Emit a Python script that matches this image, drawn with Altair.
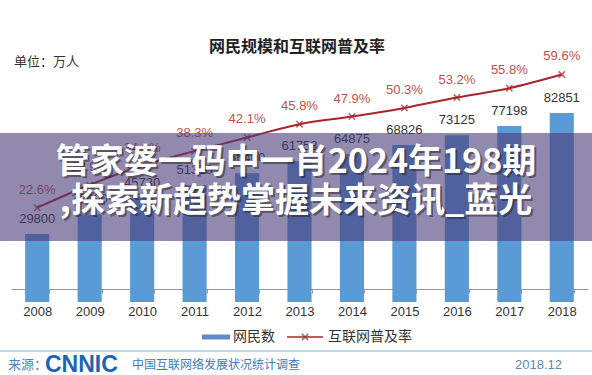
import altair as alt
import pandas as pd

years = ["2008", "2009", "2010", "2011", "2012", "2013", "2014", "2015", "2016", "2017", "2018"]
netizens = [29800, 38400, 45730, 51310, 56400, 61758, 64875, 68826, 73125, 77198, 82851]
rates = [22.6, 28.9, 34.3, 38.3, 42.1, 45.8, 47.9, 50.3, 53.2, 55.8, 59.6]

df = pd.DataFrame({"year": years, "users": netizens, "rate": rates})
df["rate_label"] = [f"{r:.1f}%" for r in rates]

CJK = "Noto Sans CJK SC"
NUM = "Liberation Sans"
W, H = 577, 212
BLUE = "#5b9bd5"
RED = "#a8262b"
XSHAPE = "M-1,-1L1,1M-1,1L1,-1"
UDOM = [5700, 98640]
GRID = [28920, 52160, 75400, 98640]

base = alt.Chart(df)
xenc = alt.X("year:N", title=None, sort=years,
             scale=alt.Scale(paddingInner=0.54, paddingOuter=0.27),
             axis=alt.Axis(labelAngle=0, labelFont=NUM, labelFontSize=13, labelColor="#333",
                           labelPadding=12, tickBand="extent", tickSize=4, tickColor="#999",
                           domainColor="#999", grid=False))
yb = alt.Y("users:Q", title=None, scale=alt.Scale(domain=UDOM, zero=False),
           axis=alt.Axis(values=GRID, labels=False, ticks=False,
                         domain=False, grid=True, gridColor="#cfcfcf", gridDash=[2, 2]))
bars = base.mark_bar(color=BLUE).encode(x=xenc, y=yb)
bar_lbl = base.mark_text(dy=-15, font=NUM, fontSize=13, color="#333", baseline="middle").encode(
    x=alt.X("year:N", sort=years), y=alt.Y("users:Q", axis=None, scale=alt.Scale(domain=UDOM, zero=False)),
    text="users:Q")

yr = alt.Y("rate:Q", axis=None, scale=alt.Scale(domain=[0, 58.9]))
line = base.mark_line(color=RED, strokeWidth=2, interpolate="monotone", clip=False).encode(
    x=alt.X("year:N", sort=years), y=yr)
pts = base.mark_point(shape=XSHAPE, filled=False, color=RED, strokeWidth=1.6, size=40, clip=False).encode(
    x=alt.X("year:N", sort=years), y=yr)
rate_lbl = base.mark_text(dy=-18, font=NUM, fontSize=13, color="#c0504d", baseline="middle").encode(
    x=alt.X("year:N", sort=years), y=yr, text="rate_label:N")

bar_layer = alt.layer(bars, bar_lbl)
rate_layer = alt.layer(line, pts, rate_lbl)


def txt(s, x, y, size=13, color="#333", font=CJK, weight="normal", align="left", opacity=1.0):
    return alt.Chart(pd.DataFrame({"t": [s]})).mark_text(
        font=font, fontSize=size, color=color, fontWeight=weight, align=align,
        baseline="middle", opacity=opacity).encode(x=alt.value(x), y=alt.value(y), text="t:N")


def rule(x1, x2, y, color, width):
    return alt.Chart(pd.DataFrame({"t": [0]})).mark_rule(color=color, strokeWidth=width).encode(
        x=alt.value(x1), x2=alt.value(x2), y=alt.value(y))


title = txt("网民规模和互联网普及率", 286, -30, size=16, color="#222", weight="bold", align="center")
unit = txt("单位：万人", 3, -15, size=13, color="#333")

leg1 = rule(191, 219, 260, "#5b8ec4", 5)
leg1t = txt("网民数", 222, 260, size=14, color="#333")
leg2 = rule(276, 312, 260, RED, 1.6)
leg2p = alt.Chart(pd.DataFrame({"t": [0]})).mark_point(
    shape=XSHAPE, filled=False, color=RED, strokeWidth=1.6, size=40).encode(
    x=alt.value(294), y=alt.value(260))
leg2t = txt("互联网普及率", 317, 260, size=14, color="#333")

foot_line = rule(-11, 581, 274, "#a9cbe8", 1.5)
src = txt("来源：", -3, 288, size=13, color="#4a86c5")
logo = txt("CNNIC", 34, 288, size=23, color="#1f64b4", font=NUM, weight="bold")
srcname = txt("中国互联网络发展状况统计调查", 121, 288, size=12, color="#3a7cc0")
date = txt("2018.12", 551, 288, size=13, color="#5a8ab8", font=NUM, align="right")

banner = alt.Chart(pd.DataFrame({"t": [0]})).mark_rect(color="#4a3a78", opacity=0.6).encode(
    x=alt.value(-11), x2=alt.value(581), y=alt.value(56), y2=alt.value(164))
b1s = txt("管家婆一码中一肖2024年198期", 287, 88, size=34, color="#222", weight="bold", align="center", opacity=0.5)
b1 = txt("管家婆一码中一肖2024年198期", 285, 86, size=34, color="#ffffff", weight="bold", align="center")
b2s = txt(",探索新趋势掌握未来资讯_蓝光", 287, 127, size=34, color="#222", weight="bold", align="center", opacity=0.5)
b2 = txt(",探索新趋势掌握未来资讯_蓝光", 285, 125, size=34, color="#ffffff", weight="bold", align="center")

main = alt.layer(bar_layer, rate_layer).resolve_scale(y="independent")

chart = alt.layer(
    main, title, unit, leg1, leg1t, leg2, leg2p, leg2t, foot_line, src, logo, srcname, date,
    banner, b1s, b1, b2s, b2
).properties(
    width=W, height=H,
    autosize=alt.AutoSizeParams(type="none"),
    padding={"left": 11, "top": 77, "right": 4, "bottom": 86},
    background="#ffffff",
).configure_view(stroke=None)

chart.save("out.html", embed_options={"renderer": "svg", "actions": False})
